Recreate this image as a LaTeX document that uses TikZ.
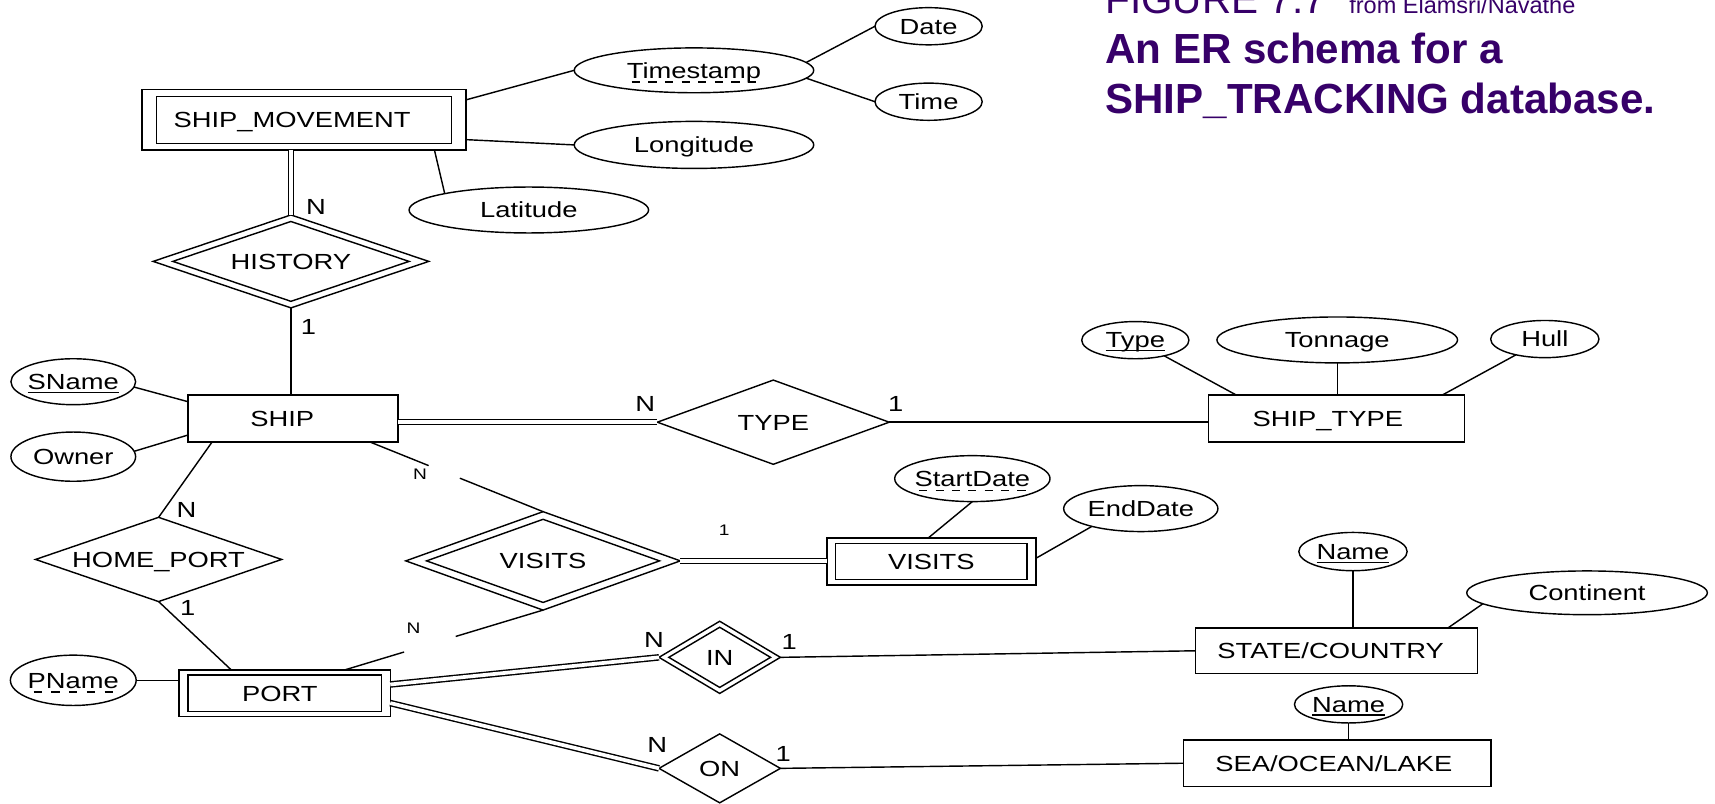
\documentclass[tikz,border=0pt]{standalone}
\usepackage{fontspec}
\usetikzlibrary{shapes.geometric,calc}
\newfontfamily\erfont[FakeStretch=1.25]{Liberation Sans}
\newfontfamily\ttlfont{Liberation Sans}
\definecolor{ttlpurple}{RGB}{55,0,105}
\newsavebox\ulbox
% solid underline for key attributes
\newcommand\keyul[1]{\sbox\ulbox{#1}\rlap{\raisebox{-3.2pt}{\rule{\wd\ulbox}{1.2pt}}}\usebox\ulbox}
% dashed underline for partial keys
\newcommand\partialul[1]{\sbox\ulbox{#1}\rlap{\raisebox{-4pt}{\hbox to \wd\ulbox{\xleaders\hbox to 14pt{\hss\rule{7.5pt}{1.2pt}\hss}\hfill}}}\usebox\ulbox}
\begin{document}
\begin{tikzpicture}[x=1pt, y=-1pt, line width=1.3pt,
  erfnt/.style={font=\erfont\fontsize{20}{24}\selectfont, text height=14.3pt, text depth=0pt},
  ent/.style={draw, rectangle, inner sep=0pt, outer sep=0pt, erfnt},
  entin/.style={draw, rectangle, inner sep=0pt, outer sep=0pt},
  attr/.style={draw, ellipse, inner sep=-5pt, outer sep=0pt, erfnt},
  rel/.style={draw, diamond, shape aspect=3, inner sep=0pt, outer sep=0pt, erfnt},
  relin/.style={draw, diamond, inner sep=0pt, outer sep=0pt},
  card/.style={inner sep=0pt, erfnt},
  smallcard/.style={inner sep=0pt, font=\erfont\fontsize{14}{16}\selectfont, text height=10pt, text depth=0pt},
  dbl/.style={double, double distance=3.4pt},
  ttl/.style={anchor=base west, inner sep=0pt, text=ttlpurple}]
\fill[white] (0,0) rectangle (1568,735);
\useasboundingbox (0,0) rectangle (1568,735);

% entities
\node[ent, minimum width=296pt, minimum height=55pt] (smov) at (278,109.5) {\hspace*{-22pt}SHIP\_MOVEMENT};
\node[entin, minimum width=270pt, minimum height=43pt] (smov-in) at (smov.center) {};
\node[ent, minimum width=192pt, minimum height=43pt] (ship) at (268,382.5) {\hspace*{-20pt}SHIP};
\node[ent, minimum width=234pt, minimum height=43pt] (stype) at (1222,382.5) {\hspace*{-16pt}SHIP\_TYPE};
\node[ent, minimum width=191pt, minimum height=43pt] (vis) at (851.5,513.5) {VISITS};
\node[entin, minimum width=175pt, minimum height=33pt] (vis-in) at (vis.center) {};
\node[ent, minimum width=193pt, minimum height=42.5pt] (port) at (260.3,633.8) {\hspace*{-9pt}PORT};
\node[entin, minimum width=177pt, minimum height=33pt] (port-in) at (port.center) {};
\node[ent, minimum width=258pt, minimum height=42pt] (state) at (1222,595) {\hspace*{-11pt}STATE/COUNTRY};
\node[ent, minimum width=281pt, minimum height=42.5pt] (sea) at (1222.5,697.8) {\hspace*{-6pt}SEA/OCEAN/LAKE};

% relationships
\node[rel, minimum width=252pt, minimum height=85pt] (hist) at (266,239) {HISTORY};
\node[relin, minimum width=216pt, minimum height=73pt] (hist-in) at (hist.center) {};
\node[rel, minimum width=212pt, minimum height=77pt] (type) at (707,386) {TYPE};
\node[rel, minimum width=225pt, minimum height=77pt] (hport) at (145,511.5) {HOME\_PORT};
\node[rel, minimum width=251pt, minimum height=90pt] (visr) at (496.5,512.8) {VISITS};
\node[relin, minimum width=213pt, minimum height=76pt] (visr-in) at (visr.center) {};
\node[rel, minimum width=111pt, minimum height=66pt] (inr) at (658,601) {IN};
\node[relin, minimum width=93pt, minimum height=55pt] (inr-in) at (inr.center) {};
\node[rel, minimum width=111pt, minimum height=63pt] (onr) at (658,702.5) {ON};

% attributes
\node[attr, minimum width=219pt, minimum height=41pt] (ts) at (634.5,64.3) {\partialul{Timestamp}};
\node[attr, minimum width=98pt, minimum height=34pt] (date) at (849,24) {Date};
\node[attr, minimum width=98pt, minimum height=34pt] (time) at (849,93) {Time};
\node[attr, minimum width=219pt, minimum height=43pt] (lon) at (634.5,132.5) {Longitude};
\node[attr, minimum width=219pt, minimum height=42pt] (lat) at (483.5,192) {Latitude};
\node[attr, minimum width=114pt, minimum height=42pt] (sname) at (67,349) {\keyul{SName}};
\node[attr, minimum width=114pt, minimum height=45pt] (owner) at (67,417.5) {Owner};
\node[attr, minimum width=115pt, minimum height=46pt] (pname) at (67,622) {\partialul{PName}};
\node[attr, minimum width=98pt, minimum height=34pt] (ttype) at (1038,311) {\keyul{Type}};
\node[attr, minimum width=220pt, minimum height=42pt] (tonn) at (1222.6,310.8) {Tonnage};
\node[attr, minimum width=99pt, minimum height=34pt] (hull) at (1412.4,310) {Hull};
\node[attr, minimum width=142pt, minimum height=42pt] (sdate) at (889,437.6) {\partialul{StartDate}};
\node[attr, minimum width=141pt, minimum height=42pt] (edate) at (1043,465) {EndDate};
\node[attr, minimum width=99pt, minimum height=35pt] (cname) at (1237,504.3) {\keyul{Name}};
\node[attr, minimum width=220pt, minimum height=40pt] (cont) at (1451,542) {Continent};
\node[attr, minimum width=99pt, minimum height=34pt] (lname) at (1233,644) {\keyul{Name}};

% connectors
\draw (smov.7) -- (ts.west);
\draw (ts.4) -- (date.west);
\draw (ts.-4) -- (time.west);
\draw (smov.-7) -- (lon.west);
\draw (smov.-13.7) -- (lat.169);
\draw[dbl] (hist.north |- smov.south) -- (hist.north);
\draw (hist.south) -- (hist.south |- ship.north);
\draw (sname.-5) -- (ship.171);
\draw (owner.5) -- (ship.189);
\draw[dbl] (ship.east |- type.west) -- (type.west);
\draw (type.east) -- (type.east -| stype.west);
\draw (ttype) -- ([xshift=-92pt]stype.north);
\draw (tonn.south) -- (tonn.south |- stype.north);
\draw (hull) -- ([xshift=97pt]stype.north);

\coordinate (sv-a) at ([xshift=70pt]ship.south);
\draw (sv-a) -- ($(sv-a)!0.34!(visr.north)$);
\draw ($(sv-a)!0.52!(visr.north)$) -- (visr.north);
\coordinate (vp-b) at ([xshift=54.7pt]port.north);
\draw (visr.south) -- ($(visr.south)!0.44!(vp-b)$);
\draw ($(visr.south)!0.70!(vp-b)$) -- (vp-b);

\draw[dbl] (visr.east) -- (visr.east -| vis.west);
\draw (sdate.south) -- ([xshift=-3pt]vis.north);
\draw (edate.200) -- ([yshift=3pt]vis.east);

\draw ([xshift=-74pt]ship.south) -- (hport.north);
\draw (hport.south) -- ([xshift=-48.8pt]port.north);
\draw (pname.east) -- (pname.east -| port.west);
\draw[dbl] ([yshift=8pt]port.east) -- (inr.west);
\draw (inr.east) -- (state.west);
\draw (cname.south) -- (cname.south |- state.north);
\draw (cont.186) -- ([xshift=102pt]state.north);
\draw[dbl] ([yshift=-9pt]port.east) -- (onr.west);
\draw (onr.east) -- (sea.west);
\draw (lname.south) -- (lname.south |- sea.north);

% cardinalities
\node[card] (c1) at (289,189) {N};
\node[card] (c2) at (282,299) {1};
\node[card] (c3) at (590,369) {N};
\node[card] (c4) at (819,369) {1};
\node[card] (c5) at (170.5,466) {N};
\node[card] (c6) at (171.6,556) {1};
\node[smallcard] (c7) at (384,433) {N};
\node[smallcard] (c8) at (378,574.4) {N};
\node[smallcard] (c9) at (662,485) {1};
\node[card] (c10) at (598,584.5) {N};
\node[card] (c11) at (721.6,586.6) {1};
\node[card] (c12) at (601,681) {N};
\node[card] (c13) at (716,688.7) {1};

% caption
\node[ttl, font=\ttlfont\fontsize{37}{40}\selectfont] (fig) at (1010,12.2) {FIGURE 7.7};
\node[ttl, font=\ttlfont\fontsize{21.5}{24}\selectfont] (src) at (1233,12.2) {from Elamsri/Navathe};
\node[ttl, font=\ttlfont\bfseries\fontsize{38.5}{42}\selectfont] (cap1) at (1010,57.9) {An ER schema for a};
\node[ttl, font=\ttlfont\bfseries\fontsize{38.5}{42}\selectfont] (cap2) at (1010,103.6) {SHIP\_TRACKING database.};
\end{tikzpicture}
\end{document}
